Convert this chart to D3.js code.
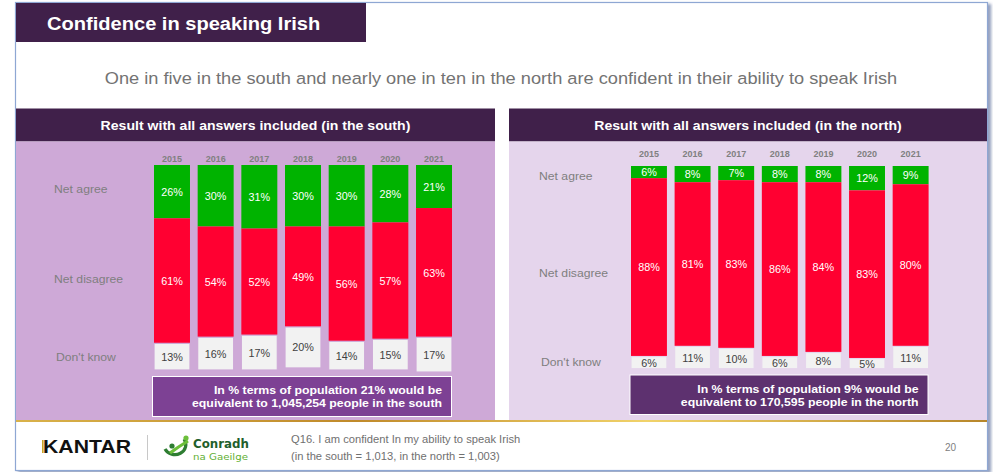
<!DOCTYPE html>
<html><head><meta charset="utf-8">
<script src="https://cdn.jsdelivr.net/npm/d3@7"></script>
<style>body{margin:0;background:#fff}svg{display:block;font-family:"Liberation Sans",Arial,sans-serif}</style>
</head><body>
<svg id="c" width="993" height="472"></svg>
<script>
const years = ["2015","2016","2017","2018","2019","2020","2021"];
const categories = ["Net agree","Net disagree","Don't know"];
const southAgree = [26,30,31,30,30,28,21];
const southDisagree = [61,54,52,49,56,57,63];
const southDontKnow = [13,16,17,20,14,15,17];
const northAgree = [6,8,7,8,8,12,9];
const northDisagree = [88,81,83,86,84,83,80];
const northDontKnow = [6,11,10,6,8,5,11];
const title = "Confidence in speaking Irish";
const subtitle = "One in five in the south and nearly one in ten in the north are confident in their ability to speak Irish";
const southHeader = "Result with all answers included (in the south)";
const northHeader = "Result with all answers included (in the north)";
const southNote = ["In % terms of population 21% would be","equivalent to 1,045,254 people in the south"];
const northNote = ["In % terms of population 9% would be","equivalent to 170,595 people in the north"];
const footNote = ["Q16. I am confident In my ability to speak Irish","(in the south = 1,013, in the north = 1,003)"];
const pageNum = "20";

const svg = d3.select("#c");
function stretch(sel,k){
  sel.each(function(){const w=this.getComputedTextLength();
    d3.select(this).attr("textLength",w*k).attr("lengthAdjust","spacingAndGlyphs");});
  return sel;
}
const defs = svg.append("defs");
const f = defs.append("filter").attr("id","sh").attr("x","-5%").attr("y","-5%").attr("width","112%").attr("height","112%");
f.append("feDropShadow").attr("dx",3).attr("dy",2).attr("stdDeviation",1.6).attr("flood-color","#4a5f90").attr("flood-opacity",0.6);
const g = defs.append("linearGradient").attr("id","gold");
g.append("stop").attr("offset","0%").attr("stop-color","#d9b24a");
g.append("stop").attr("offset","35%").attr("stop-color","#c08a2a");
g.append("stop").attr("offset","65%").attr("stop-color","#f1d36a");
g.append("stop").attr("offset","100%").attr("stop-color","#b7862a");

// slide frame
svg.append("rect").attr("x",15.5).attr("y",2.5).attr("width",972).attr("height",468)
  .attr("fill","#fff").attr("stroke","#8ea7d3").attr("stroke-width",1.2).attr("filter","url(#sh)");

// title
svg.append("rect").attr("x",16).attr("y",3).attr("width",350).attr("height",39).attr("fill","#40204a");
stretch(svg.append("text").attr("x",47).attr("y",30).attr("fill","#fff").attr("font-weight","bold").attr("font-size",17.5).text(title),1.147);
stretch(svg.append("text").attr("x",501).attr("y",84).attr("text-anchor","middle").attr("fill","#737373").attr("font-size",16.8).text(subtitle),1.085);

const colors = ["#00b300","#ff0031","#f2f2f2"];
const keys = ["agree","disagree","dk"];

function panel(o){
  svg.append("rect").attr("x",o.x0).attr("y",108.5).attr("width",o.x1-o.x0).attr("height",33).attr("fill","#40204a");
  svg.append("rect").attr("x",o.x0).attr("y",141.5).attr("width",o.x1-o.x0).attr("height",279).attr("fill",o.bg);
  stretch(svg.append("text").attr("x",(o.x0+o.x1)/2).attr("y",130).attr("text-anchor","middle").attr("fill","#fff")
    .attr("font-weight","bold").attr("font-size",12.8).text(o.header),1.1);
  const x = d3.scaleBand().domain(years).range(o.xr).paddingInner(0.176).paddingOuter(0);
  const y = d3.scaleLinear().domain([0,100]).range(o.yr);
  const data = years.map((yr,i)=>({year:yr,agree:o.a[i],disagree:o.d[i],dk:o.k[i]}));
  const series = d3.stack().keys(keys)(data);
  const gg = svg.append("g");
  series.forEach((s,si)=>{
    gg.selectAll(null).data(s).join("rect")
      .attr("x",d=>x(d.data.year)).attr("width",x.bandwidth())
      .attr("y",d=>y(d[0])).attr("height",d=>y(d[1])-y(d[0]))
      .attr("fill",colors[si]).attr("stroke",si===2?o.bg:"none").attr("stroke-width",si===2?1.2:0);
    gg.selectAll(null).data(s).join("text")
      .attr("x",d=>x(d.data.year)+x.bandwidth()/2).attr("y",d=>(y(d[0])+y(d[1]))/2+4)
      .attr("text-anchor","middle").attr("font-size",10.8)
      .attr("fill",si===2?"#404040":"#fff").text(d=>d.data[keys[si]]+"%");
  });
  // year axis
  const ax = d3.axisTop(x).tickSize(0).tickPadding(0);
  const axg = svg.append("g").attr("transform",`translate(0,${o.yearY})`).call(ax);
  axg.select(".domain").remove();
  axg.selectAll("text").attr("fill","#808080").attr("font-weight","bold").attr("font-size",9)
    .attr("font-family","Liberation Sans, Arial, sans-serif").attr("dy",0);
  // row labels
  categories.forEach((c,i)=>{
    stretch(svg.append("text").attr("x",o.lx[i]).attr("y",o.ly[i]).attr("fill","#7f7f7f").attr("font-size",11.5).text(c),1.06);
  });
  // note
  svg.append("rect").attr("x",o.nb[0]).attr("y",o.nb[1]).attr("width",o.nb[2]).attr("height",o.nb[3])
    .attr("fill",o.nbg).attr("stroke","#fff").attr("stroke-width",1);
  o.note.forEach((t,i)=>{
    stretch(svg.append("text").attr("x",o.nx).attr("y",o.ny[i]).attr("text-anchor","end").attr("fill","#fff")
      .attr("font-weight","bold").attr("font-size",11.6).text(t),1.06);
  });
}

panel({x0:16,x1:495,bg:"#cea9d7",header:southHeader,xr:[154,452],yr:[165,370],
  a:southAgree,d:southDisagree,k:southDontKnow,yearY:162,
  lx:[54,54,56],ly:[193,283,361],nb:[152.5,376.5,299,40],nbg:"#7d4194",nx:442,ny:[393.5,406.5],note:southNote});
panel({x0:509,x1:987,bg:"#e5d5ec",header:northHeader,xr:[631,928.6],yr:[166,368.7],
  a:northAgree,d:northDisagree,k:northDontKnow,yearY:157,
  lx:[539,539,541],ly:[180,277,366],nb:[630,375,298,39.5],nbg:"#5d316f",nx:918.5,ny:[392.5,405.5],note:northNote});

// gold line
svg.append("rect").attr("x",16).attr("y",420).attr("width",971).attr("height",2).attr("fill","url(#gold)");

// footer
svg.append("text").attr("x",43).attr("y",453).attr("font-weight","bold").attr("font-size",18.5)
  .attr("textLength",88).attr("lengthAdjust","spacingAndGlyphs").attr("fill","#111").text("KANTAR");
svg.append("rect").attr("x",42).attr("y",440).attr("width",1.6).attr("height",13).attr("fill","#c9a227");
svg.append("line").attr("x1",147.5).attr("x2",147.5).attr("y1",435).attr("y2",460).attr("stroke","#c8c8c8");
// Conradh logo icon
const lg = svg.append("g").attr("transform","translate(176,447)");
lg.append("path").attr("d","M-11,2 A11,10 0 1 0 8,-8").attr("fill","none").attr("stroke","#2e7d32").attr("stroke-width",3.2);
lg.append("path").attr("d","M-6,6 Q2,0 12,-6").attr("fill","none").attr("stroke","#6cbf3a").attr("stroke-width",3.2);
lg.append("circle").attr("cx",-4).attr("cy",-1).attr("r",2.6).attr("fill","#2e7d32");
lg.append("circle").attr("cx",10).attr("cy",-9).attr("r",2.6).attr("fill","#6cbf3a");
svg.append("text").attr("x",193).attr("y",447.5).attr("fill","#1f5f2c").attr("font-weight","bold").attr("font-size",12.5)
  .attr("font-family","DejaVu Sans, sans-serif").attr("textLength",56).attr("lengthAdjust","spacingAndGlyphs").text("Conradh");
svg.append("text").attr("x",193).attr("y",460).attr("fill","#5fb034").attr("font-size",9.5)
  .attr("font-family","DejaVu Sans, sans-serif").attr("textLength",55).attr("lengthAdjust","spacingAndGlyphs").text("na Gaeilge");
footNote.forEach((t,i)=>{
  stretch(svg.append("text").attr("x",291).attr("y",[443,460][i]).attr("fill","#707070").attr("font-size",10.8)
    .text(t),1.035);
});
svg.append("text").attr("x",945).attr("y",451).attr("fill","#808080").attr("font-size",10).text(pageNum);
</script>
</body></html>
